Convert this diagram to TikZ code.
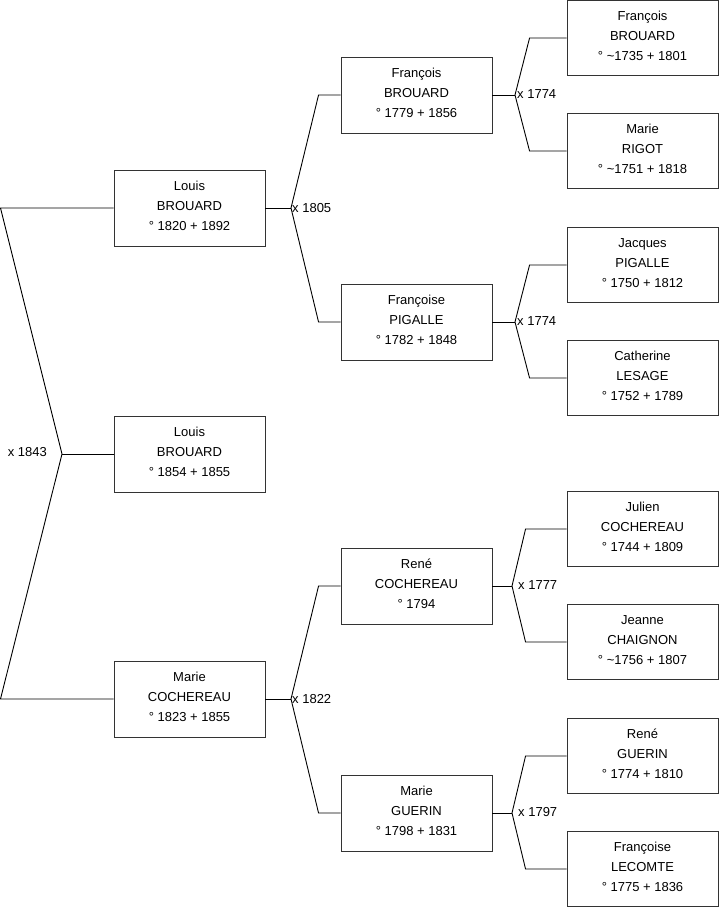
\documentclass[tikz,border=0pt]{standalone}
\usepackage{fontspec}
\setmainfont{Liberation Sans}
\tikzset{
  person/.style={draw=black!80, line width=0.9pt, minimum width=151pt, minimum height=76pt, align=center, inner sep=0pt, text depth=4pt, font=\fontsize{13}{20}\selectfont},
  wire/.style={line width=0.9pt, draw=black},
  marr/.style={inner sep=1pt, font=\fontsize{13}{15}\selectfont}
}
\begin{document}
\begin{tikzpicture}[x=1pt,y=-1pt]
\useasboundingbox (0,0) rectangle (719,908);
% column 1
\node[person] (p1) at (189.5,208) {Louis\\BROUARD\\° 1820 + 1892};
\node[person] (p2) at (189.5,454) {Louis\\BROUARD\\° 1854 + 1855};
\node[person] (p3) at (189.5,699) {Marie\\COCHEREAU\\° 1823 + 1855};
% column 2
\node[person] (f1) at (416.5,95) {François\\BROUARD\\° 1779 + 1856};
\node[person] (f2) at (416.5,322) {Françoise\\PIGALLE\\° 1782 + 1848};
\node[person] (f3) at (416.5,586) {René\\COCHEREAU\\° 1794};
\node[person] (f4) at (416.5,813) {Marie\\GUERIN\\° 1798 + 1831};
% column 3
\node[person, minimum height=75pt] (g1) at (642.5,38) {François\\BROUARD\\° \textasciitilde1735 + 1801};
\node[person, minimum height=75pt] (g2) at (642.5,151) {Marie\\RIGOT\\° \textasciitilde1751 + 1818};
\node[person, minimum height=75pt] (g3) at (642.5,265) {Jacques\\PIGALLE\\° 1750 + 1812};
\node[person, minimum height=75pt] (g4) at (642.5,378) {Catherine\\LESAGE\\° 1752 + 1789};
\node[person, minimum height=75pt] (g5) at (642.5,529) {Julien\\COCHEREAU\\° 1744 + 1809};
\node[person, minimum height=75pt] (g6) at (642.5,642) {Jeanne\\CHAIGNON\\° \textasciitilde1756 + 1807};
\node[person, minimum height=75pt] (g7) at (642.5,756) {René\\GUERIN\\° 1774 + 1810};
\node[person, minimum height=75pt] (g8) at (642.5,869) {Françoise\\LECOMTE\\° 1775 + 1836};
% left bracket
\coordinate (tl) at (0.5,208);
\coordinate (jl) at (62,454);
\coordinate (bl) at (0.5,699);
\draw[wire] (p1.west) -- (tl) -- (jl) -- (bl) -- (p3.west);
\draw[wire] (jl) -- (p2.west);
\node[marr, anchor=east] (m0) at (48,452) {x 1843};
% column1 -> column2
\coordinate (j1) at (291,208);
\draw[wire] (p1.east) -- (j1);
\draw[wire] (f1.west) -- ([xshift=-22pt]f1.west) -- (j1) -- ([xshift=-22pt]f2.west) -- (f2.west);
\node[marr, anchor=west] (m1) at (291,208) {x 1805};
\coordinate (j2) at (291,699);
\draw[wire] (p3.east) -- (j2);
\draw[wire] (f3.west) -- ([xshift=-22pt]f3.west) -- (j2) -- ([xshift=-22pt]f4.west) -- (f4.west);
\node[marr, anchor=west] (m2) at (291,699) {x 1822};
% column2 -> column3
\coordinate (k1) at (515,95);
\draw[wire] (f1.east) -- (k1);
\draw[wire] (g1.west) -- ([xshift=-37pt]g1.west) -- (k1) -- ([xshift=-37pt]g2.west) -- (g2.west);
\node[marr, anchor=west] (n1) at (516,94) {x 1774};
\coordinate (k2) at (515,322);
\draw[wire] (f2.east) -- (k2);
\draw[wire] (g3.west) -- ([xshift=-37pt]g3.west) -- (k2) -- ([xshift=-37pt]g4.west) -- (g4.west);
\node[marr, anchor=west] (n2) at (516,321) {x 1774};
\coordinate (k3) at (512,586);
\draw[wire] (f3.east) -- (k3);
\draw[wire] (g5.west) -- ([xshift=-41pt]g5.west) -- (k3) -- ([xshift=-41pt]g6.west) -- (g6.west);
\node[marr, anchor=west] (n3) at (517,585) {x 1777};
\coordinate (k4) at (512,813);
\draw[wire] (f4.east) -- (k4);
\draw[wire] (g7.west) -- ([xshift=-41pt]g7.west) -- (k4) -- ([xshift=-41pt]g8.west) -- (g8.west);
\node[marr, anchor=west] (n4) at (517,812) {x 1797};
\end{tikzpicture}
\end{document}
